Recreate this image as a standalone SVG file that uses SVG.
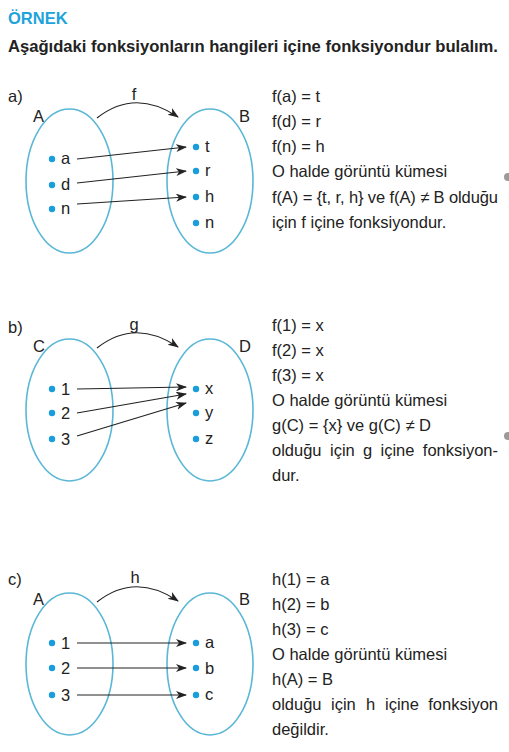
<svg xmlns="http://www.w3.org/2000/svg" width="509" height="752" viewBox="0 0 509 752">
<defs>
<marker id="ah" markerWidth="12" markerHeight="10" refX="10" refY="4" orient="auto" markerUnits="userSpaceOnUse">
<path d="M0,0 L11,4 L0,8 L3,4 Z" fill="#222"/>
</marker>
<style>
text{font-family:"Liberation Sans",Arial,sans-serif;font-size:16.5px;fill:#222}
.h{font-weight:bold}
.blue{fill:#1ea3da}
.set{fill:none;stroke:#5ab7d6;stroke-width:1.6}
.dot{fill:#1a9edb}
.ar{fill:none;stroke:#222;stroke-width:1.2;marker-end:url(#ah)}
</style>
</defs>
<rect width="509" height="752" fill="#fff"/>
<text class="h blue" x="8" y="24">ÖRNEK</text>
<text class="h" x="8" y="52" textLength="490" lengthAdjust="spacingAndGlyphs">Aşağıdaki fonksiyonların hangileri içine fonksiyondur bulalım.</text>

<!-- Section a -->
<g id="part-a">
<text x="8" y="102">a)</text>
<g id="setA1">
<ellipse class="set" cx="69.5" cy="181" rx="43.5" ry="72"/>
<text x="33" y="122">A</text>
<circle class="dot" cx="52" cy="159" r="3.2"/><text x="61" y="164">a</text>
<circle class="dot" cx="52" cy="185" r="3.2"/><text x="61" y="190">d</text>
<circle class="dot" cx="52" cy="209" r="3.2"/><text x="61" y="214">n</text>
</g>
<g id="setB1">
<ellipse class="set" cx="210" cy="181" rx="43" ry="72"/>
<text x="239" y="122">B</text>
<circle class="dot" cx="196" cy="147" r="3.2"/><text x="205" y="152">t</text>
<circle class="dot" cx="196" cy="171" r="3.2"/><text x="205" y="176">r</text>
<circle class="dot" cx="196" cy="197" r="3.2"/><text x="205" y="202">h</text>
<circle class="dot" cx="196" cy="223" r="3.2"/><text x="205" y="228">n</text>
</g>
<text x="134" y="100" text-anchor="middle">f</text>
<g id="conn-a">
<path class="ar" d="M97,118 Q135,88 178,117"/>
<line class="ar" x1="77" y1="159" x2="186" y2="147"/>
<line class="ar" x1="77" y1="183" x2="186" y2="171"/>
<line class="ar" x1="77" y1="204" x2="186" y2="197"/>
</g>
<g id="text-a">
<text x="272" y="102">f(a) = t</text>
<text x="272" y="127">f(d) = r</text>
<text x="272" y="152">f(n) = h</text>
<text x="272" y="177">O halde görüntü kümesi</text>
<text x="272" y="203" textLength="226" lengthAdjust="spacing">f(A) = {t, r, h} ve f(A) ≠ B olduğu</text>
<text x="272" y="228">için f içine fonksiyondur.</text>
</g>
</g>

<!-- Section b -->
<g id="part-b">
<text x="8" y="333">b)</text>
<g id="setC">
<ellipse class="set" cx="69.5" cy="410" rx="43.5" ry="71"/>
<text x="33" y="352">C</text>
<circle class="dot" cx="52" cy="389" r="3.2"/><text x="61" y="395">1</text>
<circle class="dot" cx="52" cy="413" r="3.2"/><text x="61" y="419">2</text>
<circle class="dot" cx="52" cy="439" r="3.2"/><text x="61" y="445">3</text>
</g>
<g id="setD">
<ellipse class="set" cx="210" cy="410" rx="43" ry="71"/>
<text x="239" y="352">D</text>
<circle class="dot" cx="196" cy="389" r="3.2"/><text x="205" y="394">x</text>
<circle class="dot" cx="196" cy="413" r="3.2"/><text x="205" y="418">y</text>
<circle class="dot" cx="196" cy="439" r="3.2"/><text x="205" y="444">z</text>
</g>
<text x="134" y="330" text-anchor="middle">g</text>
<g id="conn-b">
<path class="ar" d="M97,348 Q135,318 178,347"/>
<line class="ar" x1="77" y1="389" x2="186" y2="387"/>
<line class="ar" x1="77" y1="413" x2="186" y2="394"/>
<line class="ar" x1="77" y1="436" x2="186" y2="403"/>
</g>
<g id="text-b">
<text x="272" y="331">f(1) = x</text>
<text x="272" y="356">f(2) = x</text>
<text x="272" y="381">f(3) = x</text>
<text x="272" y="406">O halde görüntü kümesi</text>
<text x="272" y="431">g(C) = {x} ve g(C) ≠ D</text>
<text y="456"><tspan x="272">olduğu</tspan><tspan x="330">için</tspan><tspan x="363">g</tspan><tspan x="380.5">içine</tspan><tspan x="498" text-anchor="end">fonksiyon-</tspan></text>
<text x="272" y="481">dur.</text>
</g>
</g>

<!-- Section c -->
<g id="part-c">
<text x="8" y="585">c)</text>
<g id="setA2">
<ellipse class="set" cx="69.5" cy="664" rx="43.5" ry="71"/>
<text x="33" y="605">A</text>
<circle class="dot" cx="52" cy="643" r="3.2"/><text x="61" y="649">1</text>
<circle class="dot" cx="52" cy="668" r="3.2"/><text x="61" y="674">2</text>
<circle class="dot" cx="52" cy="695" r="3.2"/><text x="61" y="701">3</text>
</g>
<g id="setB2">
<ellipse class="set" cx="210" cy="664" rx="43" ry="71"/>
<text x="239" y="605">B</text>
<circle class="dot" cx="196" cy="643" r="3.2"/><text x="205" y="648">a</text>
<circle class="dot" cx="196" cy="668" r="3.2"/><text x="205" y="674">b</text>
<circle class="dot" cx="196" cy="695" r="3.2"/><text x="205" y="700">c</text>
</g>
<text x="135" y="583" text-anchor="middle">h</text>
<g id="conn-c">
<path class="ar" d="M97,602 Q135,572 178,601"/>
<line class="ar" x1="77" y1="643" x2="186" y2="643"/>
<line class="ar" x1="77" y1="668" x2="186" y2="668"/>
<line class="ar" x1="77" y1="695" x2="186" y2="695"/>
</g>
<g id="text-c">
<text x="272" y="585">h(1) = a</text>
<text x="272" y="610">h(2) = b</text>
<text x="272" y="635">h(3) = c</text>
<text x="272" y="660">O halde görüntü kümesi</text>
<text x="272" y="685">h(A) = B</text>
<text y="710"><tspan x="272">olduğu</tspan><tspan x="331">için</tspan><tspan x="366">h</tspan><tspan x="385">içine</tspan><tspan x="498" text-anchor="end">fonksiyon</tspan></text>
<text x="272" y="735">değildir.</text>
</g>
</g>

<circle cx="508" cy="177" r="4" fill="#9a9a9a"/>
<circle cx="508" cy="436" r="4" fill="#9a9a9a"/>
</svg>
